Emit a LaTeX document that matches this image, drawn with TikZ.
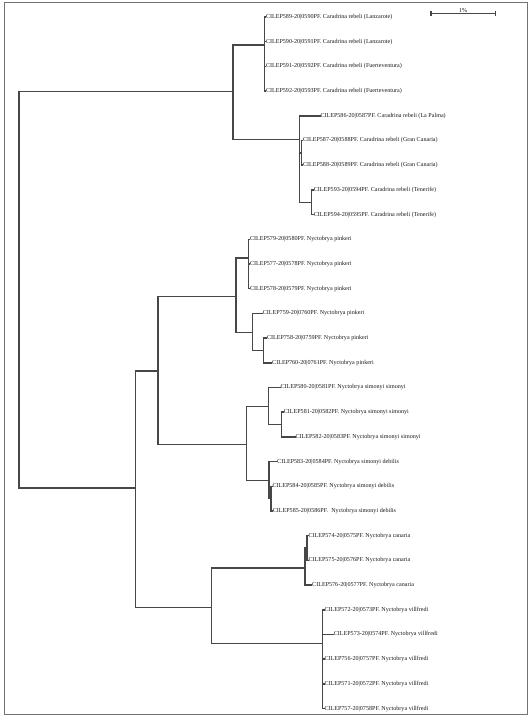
\documentclass[tikz,border=0pt]{standalone}
\usepackage{fontspec}
\setmainfont{Liberation Serif}
\usetikzlibrary{calc}
\newcommand\cladev[3]{\draw[br] (#1 |- #2) -- (#1 |- #3);}
\newcommand\brh[2]{\draw[br] (#1 |- #2) -- (#2);}
\begin{document}
\begin{tikzpicture}[x=1pt,y=-1pt,
  br/.style={draw=black!72,line width=1.45pt,line cap=rect},
  leaf/.style={anchor=west,inner sep=0.3pt,text=black!90,font=\fontsize{6.1}{7}\selectfont},
  frame/.style={draw=black!55,line width=1.3pt}]
\useasboundingbox (0,0) rectangle (532,721);
\draw[frame] (4.5,2.3) rectangle (527.3,714.3);
% leaves
\def\ly#1{17+24.7*(#1-1)}
\node[leaf] (l1) at (265.5,{\ly{1}}) {CILEP589-20|0590PF. Caradrina rebeli (Lanzarote)};
\node[leaf] (l2) at (265.5,{\ly{2}}) {CILEP590-20|0591PF. Caradrina rebeli (Lanzarote)};
\node[leaf] (l3) at (265.5,{\ly{3}}) {CILEP591-20|0592PF. Caradrina rebeli (Fuerteventura)};
\node[leaf] (l4) at (265.5,{\ly{4}}) {CILEP592-20|0593PF. Caradrina rebeli (Fuerteventura)};
\node[leaf] (l5) at (320,{\ly{5}}) {CILEP586-20|0587PF. Caradrina rebeli (La Palma)};
\node[leaf] (l6) at (302.5,{\ly{6}}) {CILEP587-20|0588PF. Caradrina rebeli (Gran Canaria)};
\node[leaf] (l7) at (302.5,{\ly{7}}) {CILEP588-20|0589PF. Caradrina rebeli (Gran Canaria)};
\node[leaf] (l8) at (313.3,{\ly{8}}) {CILEP593-20|0594PF. Caradrina rebeli (Tenerife)};
\node[leaf] (l9) at (313.3,{\ly{9}}) {CILEP594-20|0595PF. Caradrina rebeli (Tenerife)};
\node[leaf] (l10) at (249.5,{\ly{10}}) {CILEP579-20|0580PF. Nyctobrya pinkeri};
\node[leaf] (l11) at (249.5,{\ly{11}}) {CILEP577-20|0578PF. Nyctobrya pinkeri};
\node[leaf] (l12) at (249.5,{\ly{12}}) {CILEP578-20|0579PF. Nyctobrya pinkeri};
\node[leaf] (l13) at (262.3,{\ly{13}}) {CILEP759-20|0760PF. Nyctobrya pinkeri};
\node[leaf] (l14) at (266.5,{\ly{14}}) {CILEP758-20|0759PF. Nyctobrya pinkeri};
\node[leaf] (l15) at (271.7,{\ly{15}}) {CILEP760-20|0761PF. Nyctobrya pinkeri};
\node[leaf] (l16) at (280,{\ly{16}}) {CILEP580-20|0581PF. Nyctobrya simonyi simonyi};
\node[leaf] (l17) at (283.3,{\ly{17}}) {CILEP581-20|0582PF. Nyctobrya simonyi simonyi};
\node[leaf] (l18) at (295,{\ly{18}}) {CILEP582-20|0583PF. Nyctobrya simonyi simonyi};
\node[leaf] (l19) at (276.7,{\ly{19}}) {CILEP583-20|0584PF. Nyctobrya simonyi debilis};
\node[leaf] (l20) at (272,{\ly{20}}) {CILEP584-20|0585PF. Nyctobrya simonyi debilis};
\node[leaf] (l21) at (272.3,{\ly{21}}) {CILEP585-20|0586PF.\ \ Nyctobrya simonyi debilis};
\node[leaf] (l22) at (308,{\ly{22}}) {CILEP574-20|0575PF. Nyctobrya canaria};
\node[leaf] (l23) at (308,{\ly{23}}) {CILEP575-20|0576PF. Nyctobrya canaria};
\node[leaf] (l24) at (311.7,{\ly{24}}) {CILEP576-20|0577PF. Nyctobrya canaria};
\node[leaf] (l25) at (324,{\ly{25}}) {CILEP572-20|0573PF. Nyctobrya villfredi};
\node[leaf] (l26) at (333.3,{\ly{26}}) {CILEP573-20|0574PF. Nyctobrya villfredi};
\node[leaf] (l27) at (324,{\ly{27}}) {CILEP756-20|0757PF. Nyctobrya villfredi};
\node[leaf] (l28) at (324,{\ly{28}}) {CILEP571-20|0572PF. Nyctobrya villfredi};
\node[leaf] (l29) at (324,{\ly{29}}) {CILEP757-20|0758PF. Nyctobrya villfredi};
% internal nodes
\coordinate (R) at (18.8,290);
\coordinate (Car) at (233,91.5);
\coordinate (CarA) at (264.3,45);
\coordinate (CarB) at (299.3,139.6);
\coordinate (CarB1) at (301.3,152.8);
\coordinate (CarB2) at (311.7,202.3);
\coordinate (Nyc) at (135.7,488);
\coordinate (NA) at (158,371);
\coordinate (NB) at (211.5,607.7);
\coordinate (Pk) at (236,296.5);
\coordinate (Pk1) at (248.3,258);
\coordinate (Pk2) at (252.7,332.3);
\coordinate (Pk3) at (263.3,350.5);
\coordinate (Sm) at (246.5,444.5);
\coordinate (Sm1) at (268.3,406.7);
\coordinate (Sm3) at (281.7,424.5);
\coordinate (Sm2) at (268.8,480.7);
\coordinate (Sm4) at (270.8,498);
\coordinate (Ca) at (305,568);
\coordinate (Ca1) at (306.8,548);
\coordinate (Vi) at (322.7,643.5);
% root
\cladev{R}{Car}{Nyc} \brh{R}{Car} \brh{R}{Nyc}
% Caradrina
\cladev{Car}{CarA}{CarB} \brh{Car}{CarA} \brh{Car}{CarB}
\cladev{CarA}{l1.west}{l4.west}
\foreach \i in {1,...,4} {\brh{CarA}{l\i.west}}
\cladev{CarB}{l5.west}{CarB2} \brh{CarB}{l5.west} \brh{CarB}{CarB1} \brh{CarB}{CarB2}
\cladev{CarB1}{l6.west}{l7.west} \brh{CarB1}{l6.west} \brh{CarB1}{l7.west}
\cladev{CarB2}{l8.west}{l9.west} \brh{CarB2}{l8.west} \brh{CarB2}{l9.west}
% Nyctobrya
\cladev{Nyc}{NA}{NB} \brh{Nyc}{NA} \brh{Nyc}{NB}
\cladev{NA}{Pk}{Sm} \brh{NA}{Pk} \brh{NA}{Sm}
\cladev{Pk}{Pk1}{Pk2} \brh{Pk}{Pk1} \brh{Pk}{Pk2}
\cladev{Pk1}{l10.west}{l12.west}
\foreach \i in {10,11,12} {\brh{Pk1}{l\i.west}}
\cladev{Pk2}{l13.west}{Pk3} \brh{Pk2}{l13.west} \brh{Pk2}{Pk3}
\cladev{Pk3}{l14.west}{l15.west} \brh{Pk3}{l14.west} \brh{Pk3}{l15.west}
\cladev{Sm}{Sm1}{Sm2} \brh{Sm}{Sm1} \brh{Sm}{Sm2}
\cladev{Sm1}{l16.west}{Sm3} \brh{Sm1}{l16.west} \brh{Sm1}{Sm3}
\cladev{Sm3}{l17.west}{l18.west} \brh{Sm3}{l17.west} \brh{Sm3}{l18.west}
\cladev{Sm2}{l19.west}{Sm4} \brh{Sm2}{l19.west} \brh{Sm2}{Sm4}
\cladev{Sm4}{l20.west}{l21.west} \brh{Sm4}{l20.west} \brh{Sm4}{l21.west}
\cladev{NB}{Ca}{Vi} \brh{NB}{Ca} \brh{NB}{Vi}
\cladev{Ca}{Ca1}{l24.west} \brh{Ca}{Ca1} \brh{Ca}{l24.west}
\cladev{Ca1}{l22.west}{l23.west} \brh{Ca1}{l22.west} \brh{Ca1}{l23.west}
\cladev{Vi}{l25.west}{l29.west}
\foreach \i in {25,...,29} {\brh{Vi}{l\i.west}}
% scale bar
\coordinate (sbL) at (431,13.3);
\coordinate (sbR) at (495.3,13.3);
\draw[br] (sbL) -- (sbR);
\draw[br,line cap=butt] ([yshift=-2.5pt]sbL) -- ([yshift=2.5pt]sbL);
\draw[br,line cap=butt] ([yshift=-2.5pt]sbR) -- ([yshift=2.5pt]sbR);
\node[leaf,anchor=south,font=\fontsize{6}{7}\selectfont] (sbT) at ($(sbL)!0.5!(sbR)+(0,0.2)$) {1\%};
\end{tikzpicture}
\end{document}
